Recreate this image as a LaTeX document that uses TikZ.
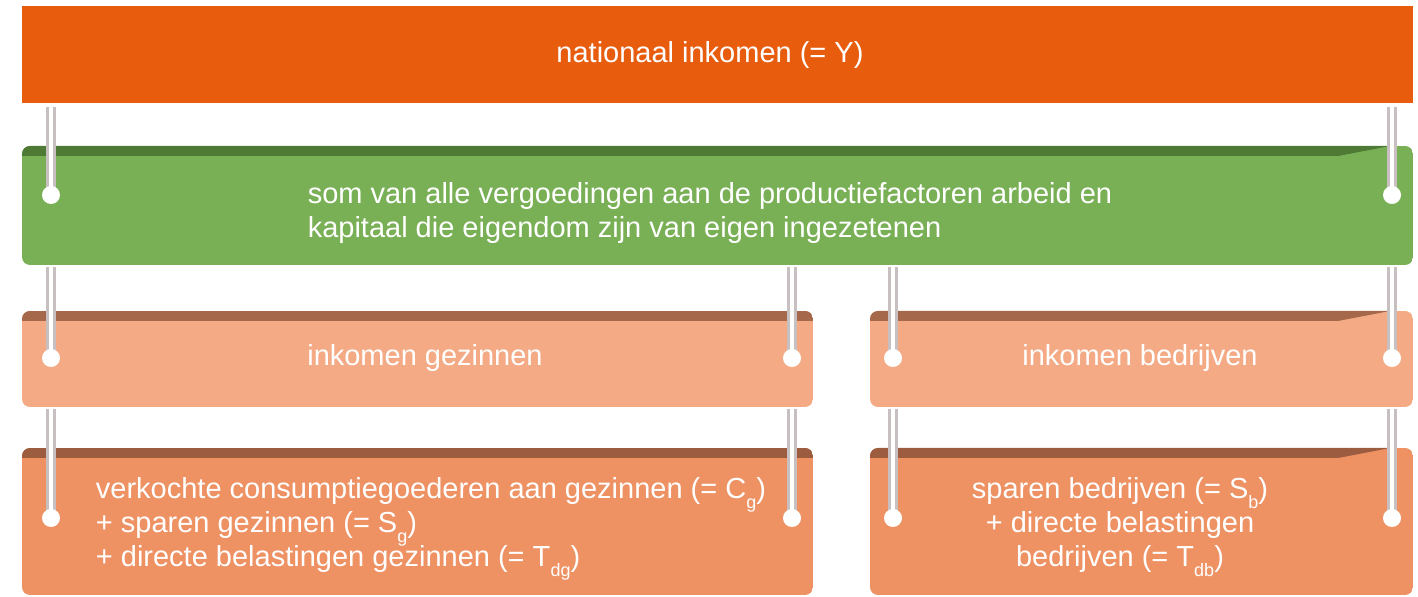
\documentclass[tikz,border=0pt]{standalone}
\usepackage{fontspec}
\setmainfont{Liberation Sans}
\definecolor{cOrange}{HTML}{E85C0E}
\definecolor{cGreen}{HTML}{79B055}
\definecolor{cGreenBand}{HTML}{4F7A35}
\definecolor{cSalL}{HTML}{F4AA85}
\definecolor{cBandL}{HTML}{A5684B}
\definecolor{cSalD}{HTML}{EE9163}
\definecolor{cBandD}{HTML}{9C5C40}
\definecolor{cRod}{HTML}{C8C0C0}
\newcommand{\lowidx}[1]{\raisebox{-5pt}[0pt][0pt]{\fontsize{9}{9}\selectfont #1}}
\begin{document}
\begin{tikzpicture}[x=0.5pt,y=-0.5pt,
  boxshape/.style={rectangle,rounded corners=4pt,inner sep=0pt,outer sep=0pt},
  lbl/.style={text=white,font=\fontsize{14.5}{17}\selectfont,inner sep=0pt},
  rodline/.style={draw=cRod,double=white,double distance=2pt,line width=1.5pt},
  pinhole/.style={circle,fill=white,inner sep=0pt,minimum size=9pt}]
\useasboundingbox (0,0) rectangle (1418,597);

% top bar
\fill[cOrange] (22,6) rectangle (1413,103);
\coordinate (barS) at (717,103);
\node[lbl] (tY) at (710,55) {nationaal inkomen (= Y)};

% green box
\begin{scope}
\clip[rounded corners=4pt] (22,146) rectangle (1413,265);
\fill[cGreen] (22,146) rectangle (1413,265);
\fill[cGreenBand] (22,146) -- (1390,146) -- (1338,156) -- (22,156) -- cycle;
\end{scope}
\node[boxshape,minimum width=695.5pt,minimum height=59.5pt] (green) at (717.5,205.5) {};
\node[lbl,align=left] (tG) at (710,213) {som van alle vergoedingen aan de productiefactoren arbeid en\\kapitaal die eigendom zijn van eigen ingezetenen};

% light salmon left
\begin{scope}
\clip[rounded corners=4pt] (22,311) rectangle (813,407);
\fill[cSalL] (22,311) rectangle (813,407);
\fill[cBandL] (22,311) rectangle (813,321);
\end{scope}
\node[boxshape,minimum width=395.5pt,minimum height=48pt] (incG) at (417.5,359) {};
\node[lbl] (tIG) at (425,358) {inkomen gezinnen};

% light salmon right
\begin{scope}
\clip[rounded corners=4pt] (870,311) rectangle (1413,407);
\fill[cSalL] (870,311) rectangle (1413,407);
\fill[cBandL] (870,311) -- (1390,311) -- (1338,321) -- (870,321) -- cycle;
\end{scope}
\node[boxshape,minimum width=271.5pt,minimum height=48pt] (incB) at (1141.5,359) {};
\node[lbl] (tIB) at (1140,358) {inkomen bedrijven};

% dark salmon left
\begin{scope}
\clip[rounded corners=4pt] (22,448) rectangle (813,595);
\fill[cSalD] (22,448) rectangle (813,595);
\fill[cBandD] (22,448) rectangle (813,458);
\end{scope}
\node[boxshape,minimum width=395.5pt,minimum height=73.5pt] (detG) at (417.5,521.5) {};
\node[lbl,align=left] (tDG) at (431,525) {verkochte consumptiegoederen aan gezinnen (= C\lowidx{g})\\+ sparen gezinnen (= S\lowidx{g})\\+ directe belastingen gezinnen (= T\lowidx{dg})};

% dark salmon right
\begin{scope}
\clip[rounded corners=4pt] (870,448) rectangle (1413,595);
\fill[cSalD] (870,448) rectangle (1413,595);
\fill[cBandD] (870,448) -- (1390,448) -- (1338,458) -- (870,458) -- cycle;
\end{scope}
\node[boxshape,minimum width=271.5pt,minimum height=73.5pt] (detB) at (1141.5,521.5) {};
\node[lbl,align=center] (tDB) at (1120,525) {sparen bedrijven (= S\lowidx{b})\\+ directe belastingen\\bedrijven (= T\lowidx{db})};

% pin positions
\coordinate (pg1) at (51,195);
\coordinate (pg2) at (1392,195);
\coordinate (pl1) at (51,358);
\coordinate (pl2) at (792,358);
\coordinate (pr1) at (893,358);
\coordinate (pr2) at (1392,358);
\coordinate (dl1) at (51,518);
\coordinate (dl2) at (792,518);
\coordinate (dr1) at (893,518);
\coordinate (dr2) at (1392,518);

% rods
\draw[rodline] ([yshift=-2pt]barS -| pg1) -- (pg1);
\draw[rodline] ([yshift=-2pt]barS -| pg2) -- (pg2);
\draw[rodline] ([yshift=-1pt]green.south -| pl1) -- (pl1);
\draw[rodline] ([yshift=-1pt]green.south -| pl2) -- (pl2);
\draw[rodline] ([yshift=-1pt]green.south -| pr1) -- (pr1);
\draw[rodline] ([yshift=-1pt]green.south -| pr2) -- (pr2);
\draw[rodline] ([yshift=-1pt]incG.south -| dl1) -- (dl1);
\draw[rodline] ([yshift=-1pt]incG.south -| dl2) -- (dl2);
\draw[rodline] ([yshift=-1pt]incB.south -| dr1) -- (dr1);
\draw[rodline] ([yshift=-1pt]incB.south -| dr2) -- (dr2);

% pins on top
\foreach \p in {pg1,pg2,pl1,pl2,pr1,pr2,dl1,dl2,dr1,dr2}
  \node[pinhole] at (\p) {};
\end{tikzpicture}
\end{document}
